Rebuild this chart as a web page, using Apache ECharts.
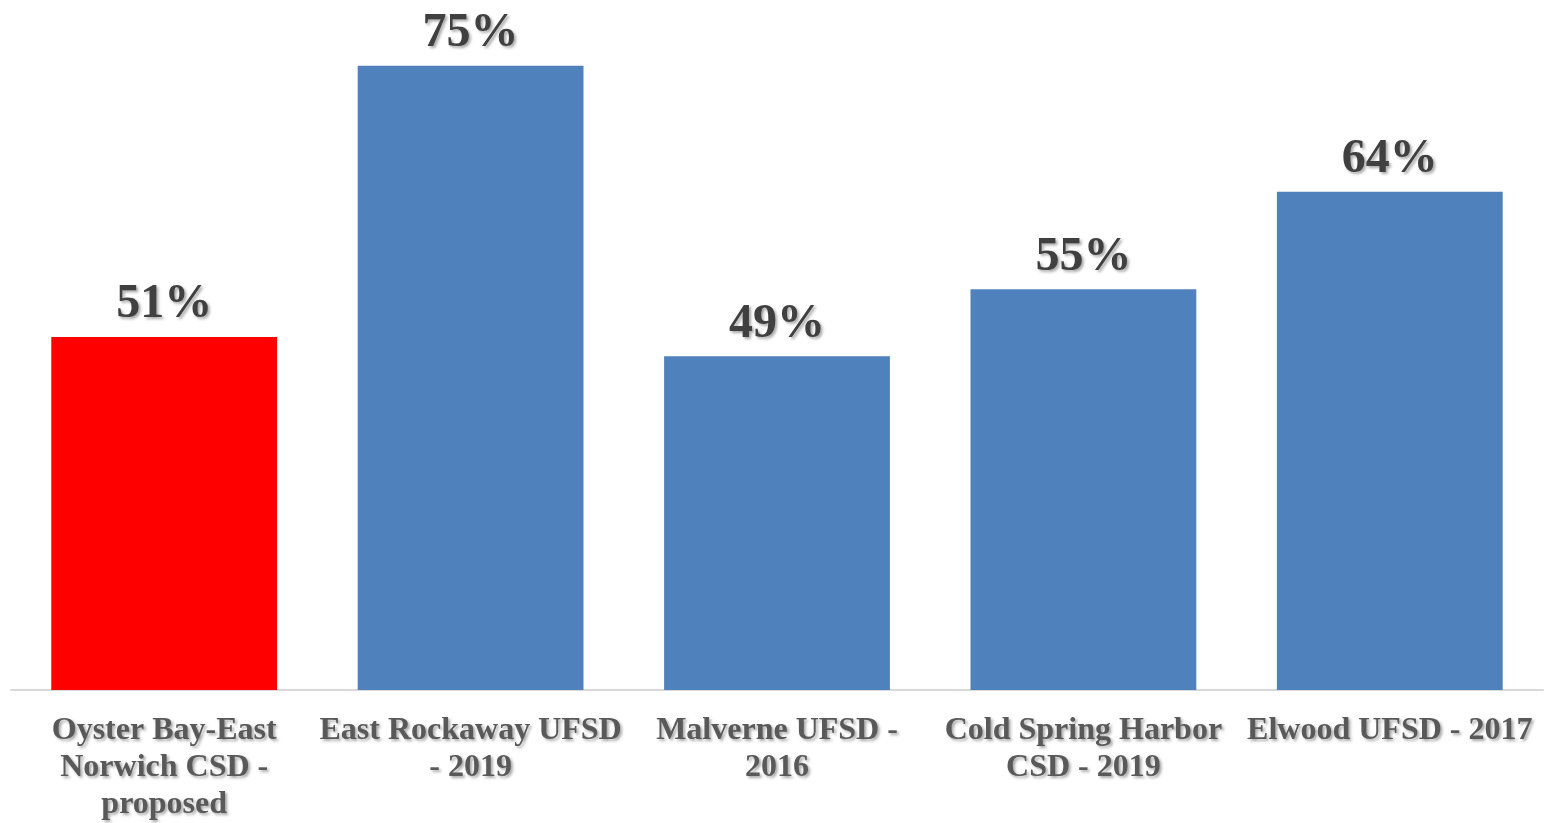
<!DOCTYPE html>
<html>
<head>
<meta charset="utf-8">
<script src="https://cdn.jsdelivr.net/npm/echarts@6/dist/echarts.min.js"></script>
<style>html,body{margin:0;padding:0;background:#fff;}#c{width:1548px;height:823px;}</style>
</head>
<body>
<div id="c"></div>
<script>
const categories = [
  "Oyster Bay-East\nNorwich CSD -\nproposed",
  "East Rockaway UFSD\n- 2019",
  "Malverne UFSD -\n2016",
  "Cold Spring Harbor\nCSD - 2019",
  "Elwood UFSD - 2017"
];
const values = [51.1, 75.0, 49.4, 55.3, 63.9];
const barColors = ["#ff0000", "#4f81bd", "#4f81bd", "#4f81bd", "#4f81bd"];

const chart = echarts.init(document.getElementById('c'));
const shadow = {
  textShadowColor: 'rgba(0,0,0,0.35)',
  textShadowBlur: 3,
  textShadowOffsetX: 2,
  textShadowOffsetY: 2
};
chart.setOption({
  animation: false,
  backgroundColor: '#ffffff',
  grid: { left: 11, right: 5, top: 9, bottom: 128, containLabel: false },
  xAxis: {
    type: 'category',
    data: categories,
    axisLine: { show: true, lineStyle: { color: '#d9d9d9', width: 2 } },
    axisTick: { show: false },
    axisLabel: Object.assign({
      interval: 0,
      margin: 22,
      color: '#595959',
      fontFamily: '"Liberation Serif", "Times New Roman", serif',
      fontWeight: 'bold',
      fontSize: 32,
      lineHeight: 37
    }, shadow)
  },
  yAxis: {
    type: 'value',
    min: 20,
    max: 80,
    show: false,
    splitLine: { show: false }
  },
  series: [{
    type: 'bar',
    barWidth: '73.7%',
    data: values.map((v, i) => ({ value: v, itemStyle: { color: barColors[i] } })),
    label: Object.assign({
      show: true,
      position: 'top',
      distance: 8,
      formatter: p => Math.round(p.value) + '%',
      color: '#404040',
      fontFamily: '"Liberation Serif", "Times New Roman", serif',
      fontWeight: 'bold',
      fontSize: 48
    }, shadow)
  }]
});
</script>
</body>
</html>
